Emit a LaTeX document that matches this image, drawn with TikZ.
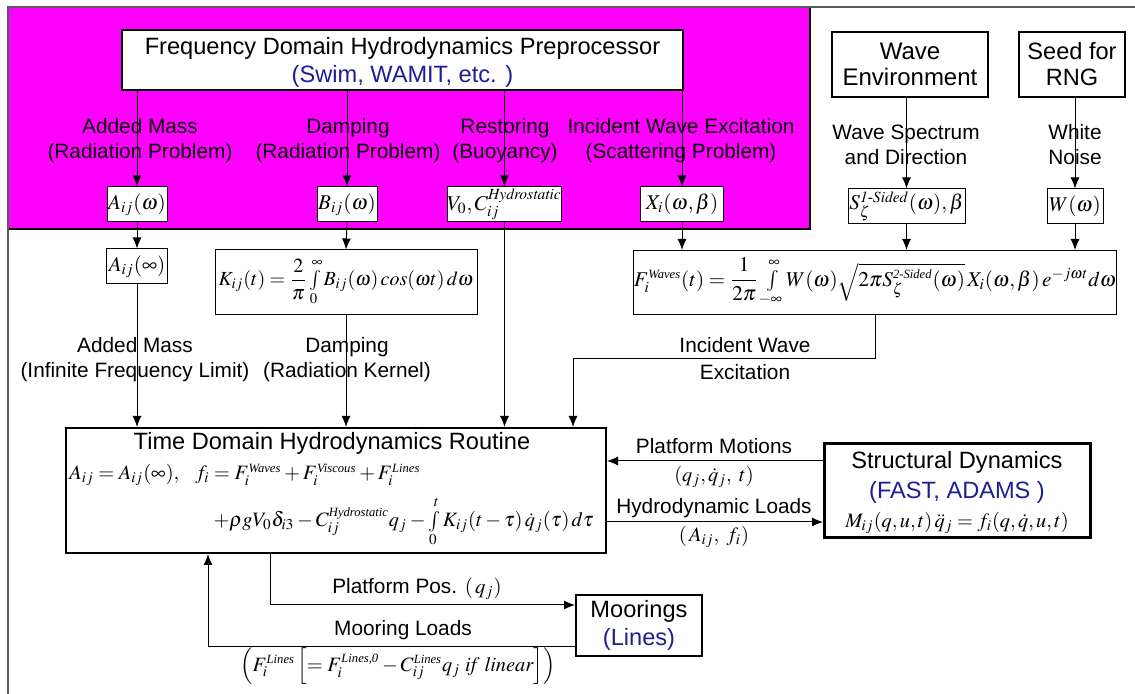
\documentclass[tikz,border=0pt]{standalone}
\usepackage{mathptmx}
\usepackage{amsmath}
\usepackage{fontspec}
\setmainfont{Liberation Serif}
\setsansfont{Liberation Sans}
\usetikzlibrary{arrows.meta}
\definecolor{mag}{RGB}{255,0,255}
\definecolor{dblue}{RGB}{30,30,150}
\definecolor{framegray}{RGB}{90,90,90}
\newcommand{\mi}[1]{\mathit{#1}}
\newcommand{\ms}[1]{\text{\fontsize{6.3}{6.5}\selectfont\rmfamily\itshape #1}}
\begin{document}
\begin{tikzpicture}[x=0.5pt,y=-0.5pt,
  lbl/.style={align=center, inner sep=0pt, font=\sffamily\fontsize{10.4}{12.5}\selectfont},
  ttl/.style={align=center, inner sep=0pt, font=\sffamily\fontsize{11.8}{14}\selectfont},
  mth/.style={inner sep=0pt, font=\fontsize{10.2}{12}\selectfont},
  sbox/.style={draw, line width=0.5pt, fill=white, inner sep=0pt, font=\fontsize{10.5}{12}\selectfont},
  bbox/.style={draw, line width=1pt, fill=white, inner sep=0pt},
  arr/.style={line width=0.5pt, -{Latex[length=5.5pt,width=4.5pt]}},
  ln/.style={line width=0.5pt}]
\useasboundingbox (0,0) rectangle (1135,694);
% page frame and magenta panel
\fill[mag] (8,8) rectangle (810,229);
\draw[line width=0.8pt] (8,229) -- (810,229) -- (810,8);
\draw[framegray, line width=0.8pt] (8,694) -- (8,7) -- (1135,7);

% top boxes
\node[bbox, minimum width=280.5pt, minimum height=30pt] (fdhp) at (402.5,60) {};
\node[ttl] (fdhpt) at (402.5,62) {Frequency Domain Hydrodynamics Preprocessor\\\textcolor{dblue}{(Swim, WAMIT, etc. )}};
\node[bbox, minimum width=78pt, minimum height=32.5pt, align=center, font=\sffamily\fontsize{12}{13}\selectfont] (wenv) at (910,64.5) {Wave\\Environment};
\node[bbox, minimum width=53pt, minimum height=32.5pt, align=center, font=\sffamily\fontsize{11.8}{13}\selectfont] (seed) at (1072,64.5) {Seed for\\RNG};

% small boxes
\node[sbox, minimum width=30pt, minimum height=17.5pt] (aw) at (137,204.5) {$A_{ij}(\omega)$};
\node[sbox, minimum width=30pt, minimum height=17.5pt] (bw) at (347,204.5) {$B_{ij}(\omega)$};
\node[sbox, minimum width=53pt, minimum height=17.5pt] (vc) at (504.5,204.5) {$V_0,C_{ij}^{\mi{Hydrostatic}}$};
\node[sbox, minimum width=41.5pt, minimum height=17.5pt] (xi) at (682,204.5) {$X_i(\omega,\beta)$};
\node[sbox, minimum width=58.5pt, minimum height=17.5pt] (sz) at (906.5,206.5) {$S_\zeta^{\mi{1\text{-}Sided}}(\omega),\beta$};
\node[sbox, minimum width=28pt, minimum height=17.5pt] (ww) at (1075,206.5) {$W(\omega)$};

% labels top
\node[lbl] (l1) at (140,141) {Added Mass\\(Radiation Problem)};
\node[lbl] (l2) at (348,141) {Damping\\(Radiation Problem)};
\node[lbl] (l3) at (505,141) {Restoring\\(Buoyancy)};
\node[lbl] (l4) at (681,141) {Incident Wave Excitation\\(Scattering Problem)};
\node[lbl] (l5) at (906,144.5) {Wave Spectrum\\and Direction};
\node[lbl] (l6) at (1075,144.5) {White\\Noise};

% second tier
\node[sbox, minimum width=30.5pt, minimum height=17.5pt] (ainf) at (137,266.5) {$A_{ij}(\infty)$};
\node[sbox, minimum width=131pt, minimum height=32.5pt, font=\fontsize{10}{12}\selectfont] (kij) at (346,282.5) {$K_{ij}(t)=\dfrac{2}{\pi}\int\limits_0^\infty B_{ij}(\omega)\,\mi{cos}(\omega t)\,d\omega$};
\node[sbox, minimum width=238.5pt, minimum height=32pt] (fw) at (875,282.5) {$F_i^{\ms{Waves}}(t)=\dfrac{1}{2\pi}\int\limits_{-\infty}^{\infty} W(\omega)\sqrt{2\pi S_\zeta^{\ms{2-Sided}}(\omega)}\,X_i(\omega,\beta)\,e^{-j\omega t}d\omega$};

\node[lbl] (l7) at (135,360) {Added Mass\\(Infinite Frequency Limit)};
\node[lbl] (l8) at (347,360) {Damping\\(Radiation Kernel)};
\node[lbl] (l9) at (745,345) {Incident Wave};
\node[lbl] (l10) at (745,372) {Excitation};

% time domain routine
\node[bbox, minimum width=270pt, minimum height=62.5pt] (tdhr) at (336,490.5) {};
\node[ttl] (tdhrt) at (332,443) {Time Domain Hydrodynamics Routine};
\node[mth, anchor=west] (eq1) at (69,475) {$A_{ij}=A_{ij}(\infty),\;\;\; f_i=F_i^{\ms{Waves}}+F_i^{\ms{Viscous}}+F_i^{\ms{Lines}}$};
\node[mth, anchor=east] (eq2) at (594,522) {$+\rho gV_0\delta_{i3}-C_{ij}^{\ms{Hydrostatic}}q_j-\int\limits_0^t K_{ij}(t-\tau)\,\dot q_j(\tau)\,d\tau$};

% structural dynamics
\node[draw, line width=1.5pt, fill=white, minimum width=133pt, minimum height=47pt, inner sep=0pt] (sd) at (957.5,491) {};
\node[ttl] (sdt1) at (957,462) {Structural Dynamics};
\node[ttl] (sdt2) at (957,492) {\textcolor{dblue}{(FAST, ADAMS )}};
\node[mth] (sdeq) at (957,523) {$M_{ij}(q,u,t)\,\ddot q_j=f_i(q,\dot q,u,t)$};

% moorings
\node[bbox, minimum width=63pt, minimum height=30.5pt, align=center, inner sep=0pt, font=\sffamily\fontsize{11.8}{14}\selectfont] (moor) at (639,625.5) {Moorings\\\textcolor{dblue}{(Lines)}};

% connector labels
\node[lbl] (pm) at (714,446) {Platform Motions};
\node[mth] (pmq) at (714,477) {$(q_j,\dot q_j,\ t)$};
\node[lbl] (hl) at (714,508) {Hydrodynamic Loads};
\node[mth] (hlq) at (714,537) {$(\,A_{ij},\ f_i)$};
\node[lbl] (pp) at (417,589) {Platform Pos. $(\,q_j)$};
\node[lbl] (ml) at (403,630) {Mooring Loads};
\node[mth] (mlq) at (398,666) {$\left(F_i^{\ms{Lines}}\left[=F_i^{\ms{Lines,0}}-C_{ij}^{\ms{Lines}}q_j\ \mi{if\ linear}\right]\right)$};

% coordinates
\coordinate (c1) at (875,359);
\coordinate (c2) at (573,359);
\coordinate (ymot) at (0,461);
\coordinate (yhyd) at (0,522);
\coordinate (ppx) at (270,0);
\coordinate (ppy) at (0,605);
\coordinate (mly) at (0,646);
\coordinate (mlx) at (208,0);

% connectors top
\draw[arr] (aw.north |- fdhp.south) -- (aw.north);
\draw[arr] (bw.north |- fdhp.south) -- (bw.north);
\draw[arr] (vc.north |- fdhp.south) -- (vc.north);
\draw[arr] (xi.north |- fdhp.south) -- (xi.north);
\draw[arr] (sz.north |- wenv.south) -- (sz.north);
\draw[arr] (ww.north |- seed.south) -- (ww.north);
% second tier
\draw[arr] (aw.south) -- (ainf.north);
\draw[arr] (bw.south) -- (kij.north);
\draw[arr] (xi.south) -- (xi.south |- fw.north);
\draw[arr] (sz.south) -- (sz.south |- fw.north);
\draw[arr] (ww.south) -- (ww.south |- fw.north);
% into time domain
\draw[arr] (ainf.south) -- (ainf.south |- tdhr.north);
\draw[arr] (kij.south) -- (kij.south |- tdhr.north);
\draw[arr] (vc.south) -- (vc.south |- tdhr.north);
\draw[arr] (c1 |- fw.south) -- (c1) -- (c2) -- (c2 |- tdhr.north);
% structural
\draw[arr] (sd.west |- ymot) -- (tdhr.east |- ymot);
\draw[arr] (tdhr.east |- yhyd) -- (sd.west |- yhyd);
% moorings
\draw[arr] (ppx |- tdhr.south) -- (ppx |- ppy) -- (moor.west |- ppy);
\draw[arr] (moor.west |- mly) -- (mlx |- mly) -- (mlx |- tdhr.south);
\end{tikzpicture}
\end{document}
